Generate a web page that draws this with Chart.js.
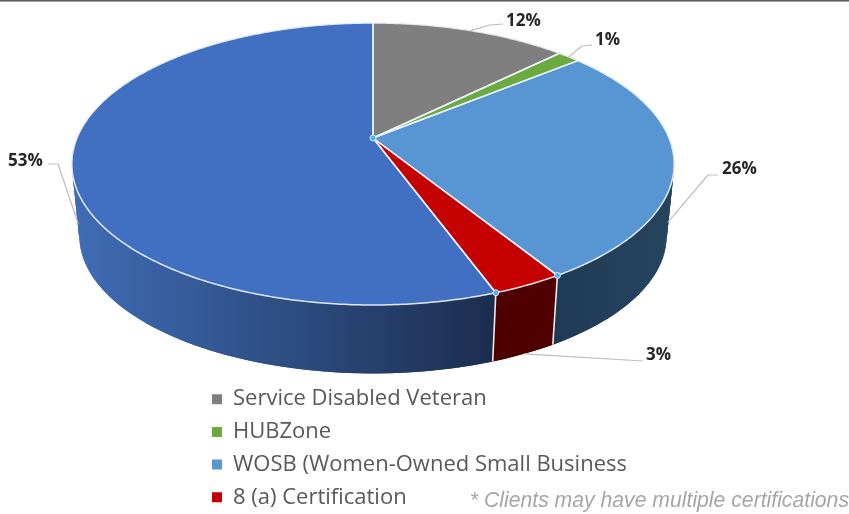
<!DOCTYPE html>
<html>
<head>
<meta charset="utf-8">
<style>
html,body{margin:0;padding:0;background:#fff;overflow:hidden}
canvas{display:block;filter:blur(0.45px)}
</style>
<script src="https://cdn.jsdelivr.net/npm/chart.js@4"></script>
</head>
<body>
<canvas id="c" width="849" height="514"></canvas>
<script>
// ---- data ----
const categories = ['Service Disabled Veteran','HUBZone','WOSB (Women-Owned Small Business','8 (a) Certification','Other'];
const values = [12.1,1.4,26.05,3.1,53.35];
const legendCount = 4;
const footnote = '* Clients may have multiple certifications';

// ---- styles ----
const topColors  = ['#7f7f7f','#6aaa3f','#5795d3','#c40000','#4170c2'];
const wallColors = ['#4c4c4c','#3f6a28',['#1f3a54','#27445e'],'#4f0000',['#3f6cb4','#1c2e50']];

// ---- projection of the pie's disc (perspective view) ----
const HUB = {x:373,y:138}, A = 296, B = 136.2, P = -0.1844, WALL_S = 0.975, WALL_DY = 72.6;
function proj(angle, t){
  const u = Math.cos(angle), v = Math.sin(angle), d = 1 + P*v;
  const x = A*u/d, y = B*v/d, s = 1 - (1-WALL_S)*t;
  return {x: HUB.x + x*s, y: HUB.y + y*s + WALL_DY*t};
}

// ---- label layout: t = position down the wall, elbow, line end, text ----
const labelLayout = [
  {t:0,    pts:[[490,25],[503,24]],  tx:506, ty:21},
  {t:0,    pts:[[582,46],[592,45]],  tx:595, ty:40},
  {t:0.85, pts:[[708,175],[718,175]],tx:722, ty:169},
  {t:1,    pts:[[643,361]],          tx:646, ty:355},
  {t:0.85, pts:[[58,164],[48,164]],  tx:8,   ty:161}
];

const pie3d = {
  id:'pie3d',
  afterLayout(chart){
    const l = chart.legend, w = l.width, h = l.height;
    l.left = 201.3; l.right = 201.3 + w; l.top = 377.5; l.bottom = 377.5 + h;
  },
  beforeDatasetDraw(chart,args){
    const ctx = chart.ctx, arcs = chart.getDatasetMeta(args.index).data;
    ctx.save();
    ctx.lineJoin = 'round';
    // walls
    arcs.forEach((el,i)=>{
      const c = wallColors[i];
      let style = c;
      if(Array.isArray(c)){
        const xs = i===4 ? [80,490] : [555,670];
        style = ctx.createLinearGradient(xs[0],0,xs[1],0);
        style.addColorStop(0,c[0]); style.addColorStop(1,c[1]);
      }
      ctx.fillStyle = style;
      const n = Math.max(2,Math.ceil((el.endAngle-el.startAngle)/0.02));
      const step = (el.endAngle-el.startAngle)/n;
      for(let k=0;k<n;k++){
        const a0 = el.startAngle+step*k;
        const a1 = a0+step*2; // overlap the next strip so no seams show
        const p = [proj(a0,0),proj(a1,0),proj(a1,1),proj(a0,1)];
        ctx.beginPath(); ctx.moveTo(p[0].x,p[0].y);
        for(let q=1;q<4;q++) ctx.lineTo(p[q].x,p[q].y);
        ctx.closePath(); ctx.fill();
      }
    });
    // wall separators
    ctx.strokeStyle = '#f0e8e8'; ctx.lineWidth = 1.6;
    arcs.forEach(el=>{
      if(Math.sin(el.startAngle) > 0.3){
        const a = proj(el.startAngle,0), b = proj(el.startAngle,1);
        ctx.beginPath(); ctx.moveTo(a.x,a.y); ctx.lineTo(b.x,b.y); ctx.stroke();
      }
    });
    // top faces
    arcs.forEach((el,i)=>{
      ctx.beginPath(); ctx.moveTo(HUB.x,HUB.y);
      const n = Math.max(4,Math.ceil((el.endAngle-el.startAngle)/0.01));
      for(let k=0;k<=n;k++){
        const p = proj(el.startAngle+(el.endAngle-el.startAngle)*k/n,0);
        ctx.lineTo(p.x,p.y);
      }
      ctx.closePath();
      ctx.fillStyle = topColors[i]; ctx.fill();
    });
    arcs.forEach(el=>{
      ctx.beginPath(); ctx.moveTo(HUB.x,HUB.y);
      const n = Math.max(4,Math.ceil((el.endAngle-el.startAngle)/0.01));
      for(let k=0;k<=n;k++){
        const p = proj(el.startAngle+(el.endAngle-el.startAngle)*k/n,0);
        ctx.lineTo(p.x,p.y);
      }
      ctx.closePath();
      ctx.strokeStyle = 'rgba(238,243,250,0.92)'; ctx.lineWidth = 1.5; ctx.stroke();
    });
    // hub and joint dots
    const red = arcs[3];
    [HUB,proj(red.startAngle,0),proj(red.endAngle,0)].forEach(p=>{
      ctx.beginPath(); ctx.arc(p.x,p.y,3,0,Math.PI*2);
      ctx.fillStyle = '#4db2ee'; ctx.fill();
      ctx.strokeStyle = 'rgba(225,242,255,0.9)'; ctx.lineWidth = 1; ctx.stroke();
    });
    // leader lines and labels
    arcs.forEach((el,i)=>{
      const lay = labelLayout[i], a = proj((el.startAngle+el.endAngle)/2,lay.t);
      ctx.beginPath(); ctx.moveTo(a.x,a.y);
      lay.pts.forEach(p=>ctx.lineTo(p[0],p[1]));
      ctx.strokeStyle = '#bdbdbd'; ctx.lineWidth = 1.2; ctx.stroke();
      ctx.font = 'bold 17px "Open Sans"'; ctx.fillStyle = '#262626';
      ctx.textAlign = 'left'; ctx.textBaseline = 'middle';
      ctx.fillText(Math.round(values[i])+'%',lay.tx,lay.ty);
    });
    // top edge and footnote
    ctx.fillStyle = '#595959'; ctx.fillRect(0,0,849,1.5);
    ctx.font = 'italic 21.2px "Liberation Sans"'; ctx.fillStyle = '#a6a6a6';
    ctx.textAlign = 'right'; ctx.textBaseline = 'alphabetic';
    ctx.fillText(footnote,849,507);
    ctx.restore();
    return false;
  }
};

new Chart(document.getElementById('c'),{
  type:'pie',
  data:{labels:categories,datasets:[{data:values,backgroundColor:topColors,borderWidth:0}]},
  options:{
    responsive:false,animation:false,
    layout:{padding:0},
    plugins:{
      tooltip:{enabled:false},
      legend:{
        display:true,position:'left',align:'start',
        labels:{
          filter:(item)=>item.index<legendCount,
          boxWidth:10,boxHeight:10,padding:10.7,color:'#595959',
          font:{family:'"Open Sans"',size:22}
        }
      }
    }
  },
  plugins:[pie3d]
});
</script>
</body>
</html>
